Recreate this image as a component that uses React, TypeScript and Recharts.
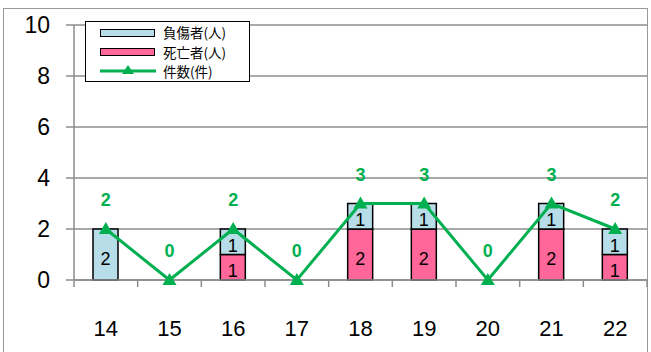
import { ComposedChart, Bar, Line, XAxis, YAxis, CartesianGrid, LabelList } from 'recharts'

const years = ['14', '15', '16', '17', '18', '19', '20', '21', '22']
const injured = [2, 0, 1, 0, 1, 1, 0, 1, 1]
const dead = [0, 0, 1, 0, 2, 2, 0, 2, 1]
const counts = [2, 0, 2, 0, 3, 3, 0, 3, 2]
const yTicks = [0, 2, 4, 6, 8, 10]

const data = years.map((y, i) => ({ year: y, injured: injured[i], dead: dead[i], count: counts[i] }))

const BLUE = '#b7dde8'
const PINK = '#ff6699'
const GREEN = '#00b050'
const GRID = '#8c8c8c'
const FONT = '"Liberation Sans", Arial, sans-serif'

// triangle marker for the count line
function Tri(props: any) {
  const { cx, cy } = props
  if (cx == null || cy == null) return null
  return <polygon points={`${cx},${cy - 7} ${cx + 7},${cy + 5} ${cx - 7},${cy + 5}`} fill={GREEN} />
}

function barLabel(props: any) {
  const { x, y, width, height, value } = props
  if (!value) return null
  return (
    <text x={x + width / 2} y={y + height / 2} dy={10} textAnchor="middle" fontSize={18} fontFamily={FONT} fill="#000">
      {value}
    </text>
  )
}

// category label plus tick marks on the band boundaries
function XTick(props: any) {
  const { x, y, payload, index, visibleTicksCount, width } = props
  const half = payload?.offset || (width && visibleTicksCount ? width / visibleTicksCount / 2 : 31.8)
  const last = index === (visibleTicksCount ?? years.length) - 1
  return (
    <g>
      <line x1={x - half} x2={x - half} y1={y} y2={y + 7} stroke={GRID} strokeWidth={1.5} />
      {last && <line x1={x + half} x2={x + half} y1={y} y2={y + 7} stroke={GRID} strokeWidth={1.5} />}
      <text x={x} y={y + 56} textAnchor="middle" fontSize={22} fontFamily={FONT} fill="#000">
        {payload.value}
      </text>
    </g>
  )
}

function LegendBox() {
  const row = { position: 'absolute' as const, left: 0, height: 19.5, width: 163 }
  const txt = {
    position: 'absolute' as const, left: 77, top: 0,
    fontSize: 13.5, fontFamily: '"Noto Sans CJK JP", sans-serif', lineHeight: 'normal', color: '#000', whiteSpace: 'nowrap' as const,
  }
  return (
    <div style={{ position: 'absolute', left: 85, top: 21, width: 163, height: 59, border: '1.5px solid #000', background: '#fff' }}>
      <div style={{ ...row, top: 0 }}>
        <div style={{ position: 'absolute', left: 14, top: 7, width: 53, height: 6, background: BLUE, border: '1.5px solid #000' }} />
        <span style={txt}>負傷者(人)</span>
      </div>
      <div style={{ ...row, top: 19.5 }}>
        <div style={{ position: 'absolute', left: 14, top: 6, width: 53, height: 6, background: PINK, border: '1.5px solid #000' }} />
        <span style={txt}>死亡者(人)</span>
      </div>
      <div style={{ ...row, top: 39 }}>
        <svg style={{ position: 'absolute', left: 14, top: 0 }} width={56} height={19}>
          <line x1={0} x2={56} y1={10} y2={10} stroke={GREEN} strokeWidth={3} />
          <polygon points="28,4 34,13 22,13" fill={GREEN} />
        </svg>
        <span style={txt}>件数(件)</span>
      </div>
    </div>
  )
}

export default function App() {
  return (
    <div style={{ position: 'absolute', left: 0, top: 0, width: 651, height: 352, background: '#fff', overflow: 'hidden' }}>
      <div style={{ position: 'absolute', left: 3, top: 8, width: 643, height: 360, border: '1.5px solid #9a9a9a' }} />
      <div style={{ position: 'absolute', left: 0, top: 0 }}>
        <ComposedChart width={651} height={352} data={data} margin={{ top: 25, right: 4, bottom: 12, left: 14 }}>
          <CartesianGrid vertical={false} stroke={GRID} strokeWidth={1.5} />
          <XAxis
            dataKey="year"
            height={60}
            tickLine={false}
            tickSize={0}
            tickMargin={0}
            axisLine={{ stroke: GRID, strokeWidth: 1.5 }}
            tick={<XTick />}
            interval={0}
          />
          <YAxis
            domain={[0, 10]}
            ticks={yTicks}
            width={60}
            tickSize={8}
            tickMargin={16}
            tickLine={{ stroke: GRID, strokeWidth: 1.5 }}
            axisLine={{ stroke: GRID, strokeWidth: 1.5 }}
            tick={{ fontSize: 23, fill: '#000', fontFamily: FONT }}
          />
          <Bar dataKey="dead" stackId="a" fill={PINK} stroke="#000" strokeWidth={1.5} barSize={25} isAnimationActive={false}>
            <LabelList dataKey="dead" content={barLabel} />
          </Bar>
          <Bar dataKey="injured" stackId="a" fill={BLUE} stroke="#000" strokeWidth={1.5} barSize={25} isAnimationActive={false}>
            <LabelList dataKey="injured" content={barLabel} />
          </Bar>
          <Line
            dataKey="count"
            stroke={GREEN}
            strokeWidth={3}
            dot={<Tri />}
            activeDot={false}
            isAnimationActive={false}
          >
            <LabelList dataKey="count" position="top" offset={23} fill={GREEN} fontSize={18} fontWeight="bold" fontFamily={FONT} />
          </Line>
        </ComposedChart>
      </div>
      <LegendBox />
    </div>
  )
}
